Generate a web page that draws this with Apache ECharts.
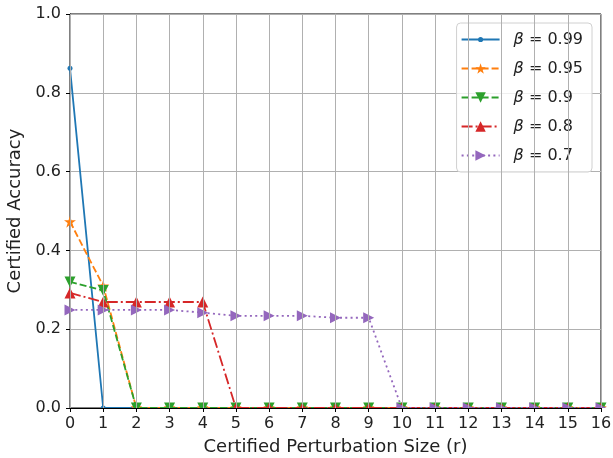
<!DOCTYPE html>
<html><head><meta charset="utf-8">
<script src="https://cdn.jsdelivr.net/npm/echarts@6/dist/echarts.min.js"></script>
<style>html,body{margin:0;padding:0;background:#fff}#c{width:613px;height:458px}</style>
</head><body><div id="c"></div>
<script>
const radii = [0,1,2,3,4,5,6,7,8,9,10,11,12,13,14,15,16];
const betaLabels = ['0.99','0.95','0.9','0.8','0.7'];
const acc099 = [0.862,0,0,0,0,0,0,0,0,0,0,0,0,0,0,0,0];
const acc095 = [0.473,0.310,0,0,0,0,0,0,0,0,0,0,0,0,0,0,0];
const acc090 = [0.320,0.298,0,0,0,0,0,0,0,0,0,0,0,0,0,0,0];
const acc080 = [0.292,0.269,0.269,0.269,0.269,0,0,0,0,0,0,0,0,0,0,0,0];
const acc070 = [0.249,0.249,0.249,0.249,0.242,0.234,0.234,0.234,0.229,0.229,0,0,0,0,0,0,0];

const starPath = 'path://M50,0 L61.8,35.1 L98.9,35.1 L69.1,56.7 L80.3,91.9 L50,70.3 L19.7,91.9 L30.9,56.7 L1.1,35.1 L38.2,35.1 Z';
const blueLegendIcon = 'path://M0,0 M38,13 M0,5.6 L16.6,5.6 L16.6,7.4 L0,7.4 Z M21.4,5.6 L38,5.6 L38,7.4 L21.4,7.4 Z M21.6,6.5 A2.6,2.6 0 1,1 16.4,6.5 A2.6,2.6 0 1,1 21.6,6.5 Z';
const colors = ['#1f77b4','#ff7f0e','#2ca02c','#d62728','#9467bd'];
const values = [acc099, acc095, acc090, acc080, acc070];
// full markers, and the upper halves that remain visible where a marker sits on the clipped bottom edge
const styles = [
  {symbol:'circle', size:5, rot:0, type:'solid',
   half:'path://M0,50 A50,50 0 0,1 100,50 Z', halfSize:[5,2.5]},
  {symbol:starPath, size:12, rot:0, type:[7,3],
   half:'path://M50,0 L61.8,35.1 L98.9,35.1 L78.3,50 L21.7,50 L1.1,35.1 L38.2,35.1 Z', halfSize:[11.7,6]},
  {symbol:'triangle', size:11, rot:180, type:[7,3],
   half:'path://M0,0 L100,0 L75,50 L25,50 Z', halfSize:[11,5.5]},
  {symbol:'triangle', size:11, rot:0, type:[11,3,2,3],
   half:'path://M50,0 L75,50 L25,50 Z', halfSize:[5.5,5.5]},
  {symbol:'triangle', size:11, rot:-90, type:[2,3.3],
   half:'path://M0,0 L100,50 L0,50 Z', halfSize:[11,5.5]}
];
const names = betaLabels.map(b => 'β = ' + b);

const series = values.map((v, i) => ({
  name: names[i],
  type: 'line',
  data: radii.map((r, j) => v[j] === 0
    ? {value: [r, v[j]], symbol: styles[i].half, symbolSize: styles[i].halfSize, symbolRotate: 0,
       symbolOffset: [0, -styles[i].halfSize[1] / 2]}
    : {value: [r, v[j]]}),
  symbol: styles[i].symbol,
  symbolSize: styles[i].size,
  symbolRotate: styles[i].rot,
  showAllSymbol: true,
  clip: false,
  itemStyle: {color: colors[i]},
  lineStyle: {color: colors[i], width: 1.8, type: styles[i].type},
  z: 2 + i
}));

const legendData = names.map((n, i) => i === 0 ? {name: n, icon: blueLegendIcon} : {name: n});

const chart = echarts.init(document.getElementById('c'));
chart.setOption({
  animation: false,
  textStyle: {fontFamily: 'DejaVu Sans'},
  grid: {left: 70, right: 12, top: 14, bottom: 50, show: true, borderColor: '#000', borderWidth: 1, outerBoundsMode: 'none', containLabel: false},
  legend: {
    right: 21, top: 23,
    orient: 'vertical',
    itemWidth: 38, itemHeight: 13, itemGap: 12,
    padding: [8, 9, 8, 4],
    backgroundColor: 'rgba(255,255,255,0.8)',
    borderColor: '#d0d0d0', borderWidth: 1, borderRadius: 4,
    data: legendData,
    formatter: function(n){ return '{b|β} = ' + n.slice(4); },
    textStyle: {fontSize: 16, lineHeight: 17, color: '#222', fontFamily: 'DejaVu Sans', padding: [0,0,0,9],
      rich: {b: {fontStyle: 'italic', fontSize: 16, lineHeight: 17, fontFamily: 'DejaVu Sans'}}}
  },
  xAxis: {
    type: 'value', min: 0, max: 16, interval: 1,
    name: 'Certified Perturbation Size (r)', nameLocation: 'middle', nameGap: 30,
    nameTextStyle: {fontSize: 18, color: '#222'},
    axisLine: {show: true, onZero: false, lineStyle: {color: '#000'}},
    axisTick: {show: true, length: 4, lineStyle: {color: '#000'}},
    axisLabel: {fontSize: 16, color: '#222', margin: 8},
    splitLine: {show: true, lineStyle: {color: '#b0b0b0', width: 1}},
    z: 10
  },
  yAxis: {
    type: 'value', min: 0, max: 1, interval: 0.2,
    name: 'Certified Accuracy', nameLocation: 'middle', nameGap: 45,
    nameTextStyle: {fontSize: 18, color: '#222'},
    axisLine: {show: true, lineStyle: {color: '#000'}},
    axisTick: {show: true, length: 4, lineStyle: {color: '#000'}},
    axisLabel: {fontSize: 16, color: '#222', margin: 9, formatter: v => v.toFixed(1)},
    splitLine: {show: true, lineStyle: {color: '#b0b0b0', width: 1}}
  },
  series: series
});
</script></body></html>
